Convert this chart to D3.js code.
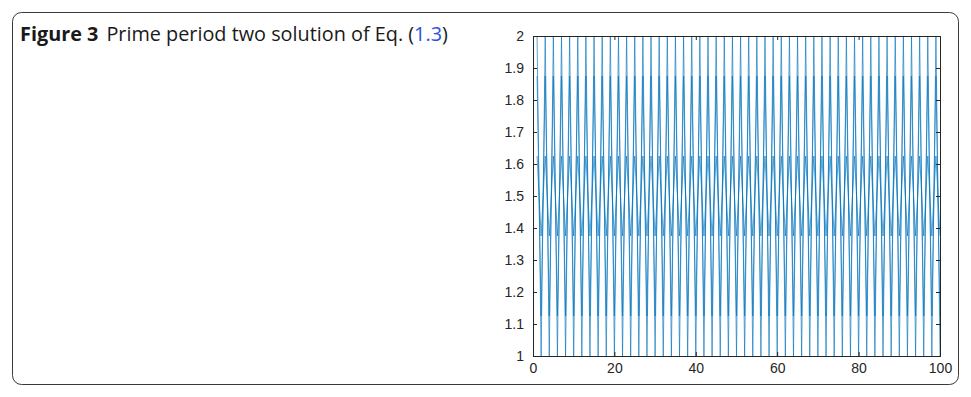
<!DOCTYPE html>
<html>
<head>
<meta charset="utf-8">
<script src="https://cdn.jsdelivr.net/npm/d3@7"></script>
<style>
  html, body { margin: 0; padding: 0; background: #fff; }
  svg { display: block; }
</style>
</head>
<body>
<script>
// Iteration index n = 1..100
const steps = d3.range(1, 101);
// Period-two orbits {a, 3 - a}: value on odd n, value on even n
const orbitOdd  = [2, 1.875, 1.625];
const orbitEven = [1, 1.125, 1.375];
const yTicks = [1, 1.1, 1.2, 1.3, 1.4, 1.5, 1.6, 1.7, 1.8, 1.9, 2];
const xTicks = [0, 20, 40, 60, 80, 100];

const W = 971, H = 397;
const svg = d3.select("body").append("svg").attr("width", W).attr("height", H);

// Figure frame
svg.append("rect")
  .attr("x", 12.5).attr("y", 12.5).attr("width", 946).attr("height", 372)
  .attr("rx", 9).attr("fill", "none").attr("stroke", "#3a3a3a").attr("stroke-width", 1);

// Caption, sized to span its line
const cap = svg.append("text").attr("x", 20).attr("y", 41)
  .attr("font-family", "'Open Sans', 'Noto Sans', sans-serif").attr("font-size", 17).attr("fill", "#1a1a1a");
cap.append("tspan").attr("font-weight", "bold").text("Figure 3");
cap.append("tspan").attr("dx", 8).text("Prime period two solution of Eq. (");
cap.append("tspan").attr("fill", "#2a52d8").text("1.3");
cap.append("tspan").text(")");
const capW = cap.node().getComputedTextLength();
if (capW > 0) cap.attr("font-size", 17 * 420 / capW);

// Plot area
const x = d3.scaleLinear().domain([0, 100]).range([533, 940]);
const y = d3.scaleLinear().domain([1, 2]).range([356, 36]);

const series = orbitOdd.map((hi, i) =>
  steps.map(n => ({ n, v: n % 2 === 1 ? hi : orbitEven[i] })));

const line = d3.line().x(d => x(d.n)).y(d => y(d.v));
svg.append("g").selectAll("path.orbit").data(series).enter().append("path")
  .attr("class", "orbit")
  .attr("d", line)
  .attr("fill", "none")
  .attr("stroke", "#0072BD")
  .attr("stroke-width", 0.65);

// Axes (box with inward ticks)
const axisColor = "#262626";
const font = "'Liberation Sans', Arial, sans-serif";
const yAxis = d3.axisLeft(y).tickValues(yTicks).tickSize(-4).tickPadding(9)
  .tickFormat(d => d3.format("~g")(d));
const xAxis = d3.axisBottom(x).tickValues(xTicks).tickSize(-4).tickPadding(7);

const ga = svg.append("g").attr("transform", `translate(${x(0)},0)`).call(yAxis);
const gb = svg.append("g").attr("transform", `translate(0,${y(1)})`).call(xAxis);
const gr = svg.append("g").attr("transform", `translate(${x(100)},0)`)
  .call(d3.axisRight(y).tickValues(yTicks).tickSize(-4).tickFormat(""));
const gt = svg.append("g").attr("transform", `translate(0,${y(2)})`)
  .call(d3.axisTop(x).tickValues(xTicks).tickSize(-4).tickFormat(""));

[ga, gb, gr, gt].forEach(a => {
  a.select(".domain").attr("stroke", axisColor).attr("stroke-width", 1);
  a.selectAll(".tick line").attr("stroke", axisColor);
  a.selectAll("text").attr("font-family", font).attr("font-size", 14).attr("fill", axisColor);
});
</script>
</body>
</html>
